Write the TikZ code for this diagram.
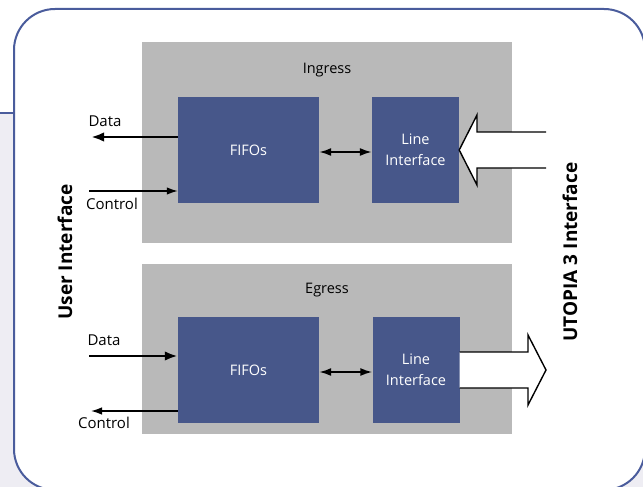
\documentclass[tikz,border=0pt]{standalone}
\usepackage{fontspec}
\setmainfont{Open Sans}
\usetikzlibrary{arrows.meta}
\definecolor{frame}{HTML}{4A5C9C}
\definecolor{block}{HTML}{47578A}
\definecolor{panel}{HTML}{B9B9B9}
\definecolor{wash}{HTML}{EEEDF3}

\begin{document}
\begin{tikzpicture}[x=1pt,y=-1pt,
  panelbox/.style={fill=panel, draw=none, inner sep=0pt},
  blockbox/.style={fill=block, draw=none, text=white, align=center, inner sep=0pt,
    minimum width=141pt, minimum height=106pt, font=\fontsize{14.5}{21}\selectfont},
  linebox/.style={blockbox, minimum width=87pt},
  lbl/.style={font=\fontsize{15}{18}\selectfont, inner sep=0pt},
  title/.style={font=\fontsize{14.5}{18}\selectfont, inner sep=0pt},
  thickarrow/.style={line width=2.6pt, -{Latex[length=13pt,width=9.5pt]}},
  thinarrow/.style={line width=1.4pt, -{Latex[length=11pt,width=7.5pt]}},
  bothway/.style={line width=1.8pt, {Latex[length=12pt,width=8pt]}-{Latex[length=12pt,width=8pt]}},
  hollow/.style={draw=black, line width=1.4pt, fill=white, line join=miter},
  sidetitle/.style={font=\bfseries\fontsize{19}{22}\selectfont, rotate=90, inner sep=0pt}
]
\useasboundingbox (0,0) rectangle (643,487);

% backdrop and rounded frame
\fill[wash] (0,113) rectangle (643,487);
\draw[frame, line width=1.5pt] (0,113) -- (14,113);
\draw[frame, line width=2pt, fill=white, rounded corners=41pt] (14,9) rectangle (645,490);

% panels
\node[panelbox, minimum width=370pt, minimum height=201pt] (ingress) at (327,142.5) {};
\node[panelbox, minimum width=370pt, minimum height=170pt] (egress) at (327,349) {};
\node[title] (ingressT) at (327,70) {Ingress};
\node[title] (egressT) at (327,290) {Egress};

% blocks
\node[blockbox] (inFifo) at (248.5,150) {FIFOs};
\node[linebox] (inLine) at (415.5,150) {Line\\Interface};
\node[blockbox] (egFifo) at (248.5,370) {FIFOs};
\node[linebox] (egLine) at (416,370) {Line\\Interface};

% internal links
\draw[bothway] ([yshift=-2pt]inFifo.east) -- ([yshift=-2pt]inLine.west);
\draw[bothway] ([yshift=-2pt]egFifo.east) -- ([yshift=-2pt]egLine.west);

% user side signals
\coordinate (inDataEnd) at (91,137);
\coordinate (inCtrlStart) at (89,191);
\coordinate (egDataStart) at (89,356);
\coordinate (egCtrlEnd) at (91,411);
\draw[thickarrow] (inDataEnd -| inFifo.west) -- (inDataEnd);
\draw[thinarrow] (inCtrlStart) -- (inCtrlStart -| inFifo.west);
\draw[thickarrow] (egDataStart) -- (egDataStart -| egFifo.west);
\draw[thinarrow] (egCtrlEnd -| egFifo.west) -- (egCtrlEnd);
\node[lbl] (inDataL) at (105,121) {Data};
\node[lbl] (inCtrlL) at (112,204) {Control};
\node[lbl] (egDataL) at (104,340) {Data};
\node[lbl] (egCtrlL) at (104,423) {Control};

% bus arrows
\draw[hollow] (546,132) -- (477,132) -- (477,115) -- (inLine.east) -- (477,185) -- (477,168) -- (546,168);
\draw[hollow] (egLine.east |- 0,352) -- (528,352) -- (528,335) -- (546,370) -- (528,405) -- (528,388) -- (egLine.east |- 0,388);

% side titles
\node[sidetitle] (userT) at (65,252) {User Interface};
\node[sidetitle] (utopiaT) at (570,252) {UTOPIA 3 Interface};
\end{tikzpicture}
\end{document}
